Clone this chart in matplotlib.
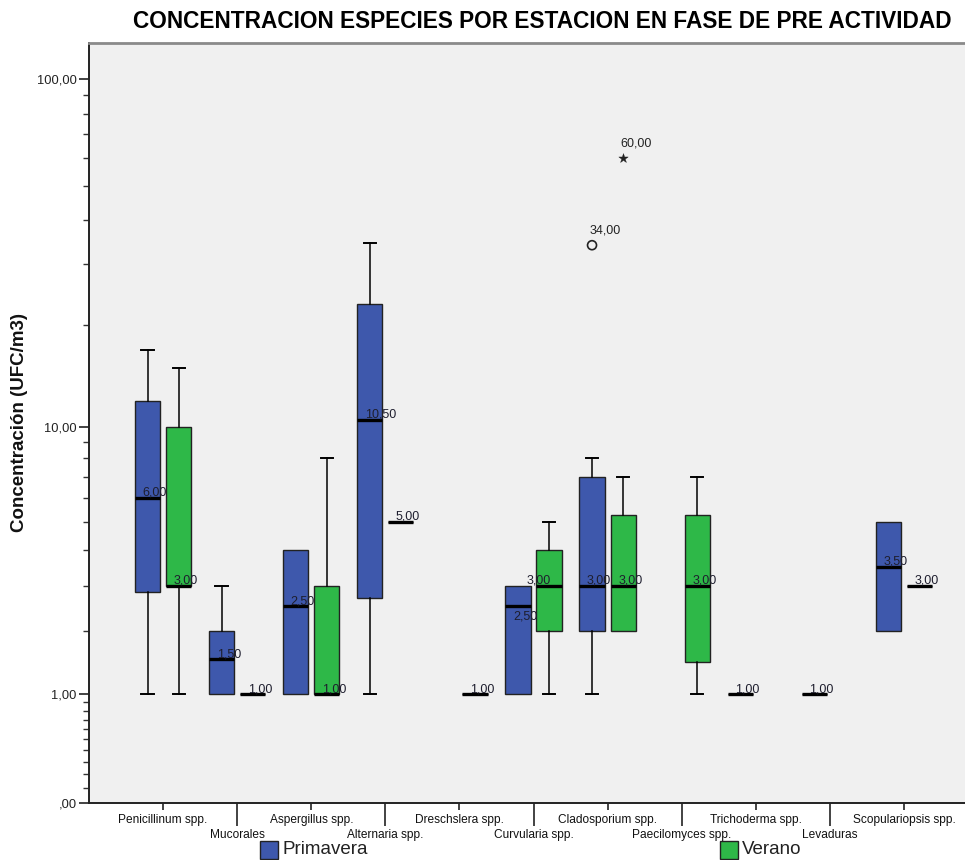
import numpy as np
import matplotlib
matplotlib.use("Agg")
import matplotlib.pyplot as plt
from matplotlib.patches import Rectangle

plt.rcParams['font.family'] = ['Liberation Sans', 'DejaVu Sans']

title = "CONCENTRACION ESPECIES POR ESTACION EN FASE DE PRE ACTIVIDAD"
y_label = "Concentración (UFC/m3)"
categories = ["Penicillinum spp.", "Mucorales", "Aspergillus spp.", "Alternaria spp.",
              "Dreschslera spp.", "Curvularia spp.", "Cladosporium spp.",
              "Paecilomyces spp.", "Trichoderma spp.", "Levaduras",
              "Scopulariopsis spp."]
seasons = ["Primavera", "Verano"]
nan = np.nan

# Five-number summaries (UFC/m3) per category, NaN where the season has no data
prim_low = [1, 1, 1, 1, nan, 1, 1, nan, 1, 1, 2]
prim_q1 = [2.85, 1, 1, 2.7, nan, 1, 2, nan, 1, 1, 2]
prim_med = [6, 1.5, 2.5, 10.5, nan, 2.5, 3, nan, 1, 1, 3.5]
prim_q3 = [12, 2, 4, 23, nan, 3, 7, nan, 1, 1, 5]
prim_high = [17, 3, 4, 34.5, nan, 3, 8, nan, 1, 1, 5]

ver_low = [1, 1, 1, 5, 1, 1, 2, 1, nan, nan, 3]
ver_q1 = [3, 1, 1, 5, 1, 2, 2, 1.45, nan, nan, 3]
ver_med = [3, 1, 1, 5, 1, 3, 3, 3, nan, nan, 3]
ver_q3 = [10, 1, 3, 5, 1, 4, 5.25, 5.25, nan, nan, 3]
ver_high = [15, 1, 8, 5, 1, 5, 7, 7, nan, nan, 3]

# Outliers (circle) and extreme values (star)
outlier_season = ["Primavera"]
outlier_category = ["Cladosporium spp."]
outlier_value = [34]
extreme_season = ["Verano"]
extreme_category = ["Cladosporium spp."]
extreme_value = [60]

y_major = [0, 1, 10, 100]
y_minor = [0.1, 0.2, 0.3, 0.4, 0.5, 0.6, 0.7, 0.8, 0.9,
           2, 3, 4, 5, 6, 7, 8, 9, 20, 30, 40, 50, 60, 70, 80, 90]

colors = {"Primavera": "#3E58AC", "Verano": "#2EB848"}
series = {
    "Primavera": (prim_low, prim_q1, prim_med, prim_q3, prim_high),
    "Verano": (ver_low, ver_q1, ver_med, ver_q3, ver_high),
}
offsets = {"Primavera": -0.21, "Verano": 0.21}
box_w = 0.34


def fmt(v):
    return f"{v:.2f}".replace(".", ",")


W, H = 965, 860
fig = plt.figure(figsize=(W / 100, H / 100), dpi=100)
fig.patch.set_facecolor("white")
ax = fig.add_axes([89 / W, (H - 803) / H, (978 - 89) / W, (803 - 43) / H])
ax.set_facecolor("#F0F0F0")

ax.set_yscale("function", functions=(lambda v: np.log10(np.clip(v, -0.999, None) + 1),
                                     lambda v: 10 ** v - 1))
ax.set_ylim(0, 126)
ax.set_xlim(-1, 11)

# label placement tweaks (points) for crowded medians
label_offset = {("Primavera", "Curvularia spp."): (-3.5, -3, "top"),
                ("Verano", "Curvularia spp."): (-16, 1.5, "baseline")}

for s in seasons:
    low, q1, med, q3, high = series[s]
    stats, pos = [], []
    for i, cat in enumerate(categories):
        if np.isnan(med[i]):
            continue
        stats.append(dict(whislo=low[i], q1=q1[i], med=med[i], q3=q3[i],
                          whishi=high[i], fliers=[]))
        pos.append(i + offsets[s])
    art = ax.bxp(stats, positions=pos, widths=box_w, capwidths=0.165,
                 showfliers=False, patch_artist=True,
                 boxprops=dict(facecolor=colors[s], edgecolor="#222222", linewidth=1.0),
                 medianprops=dict(color="black", linewidth=2.4, solid_capstyle="butt"),
                 whiskerprops=dict(color="black", linewidth=1.1),
                 capprops=dict(color="black", linewidth=1.4))
    # whiskers of zero length carry no cap
    for k, st in enumerate(stats):
        if st["whislo"] == st["q1"]:
            art["whiskers"][2 * k].set_visible(False)
            art["caps"][2 * k].set_visible(False)
        if st["whishi"] == st["q3"]:
            art["whiskers"][2 * k + 1].set_visible(False)
            art["caps"][2 * k + 1].set_visible(False)
    for i, cat in enumerate(categories):
        if np.isnan(med[i]):
            continue
        dx, dy, va = label_offset.get((s, cat), (-3.6, 1.5, "baseline"))
        ax.annotate(fmt(med[i]), (i + offsets[s], med[i]), xytext=(dx, dy),
                    textcoords="offset points", ha="left", va=va,
                    fontsize=9, color="#1e1e2e", zorder=5)

for s, cat, v in zip(outlier_season, outlier_category, outlier_value):
    x = categories.index(cat) + offsets[s]
    ax.scatter([x], [v], s=42, marker="o", facecolors="none",
               edgecolors="#222222", linewidths=1.2, zorder=4)
    ax.annotate(fmt(v), (x, v), xytext=(-2, 6), textcoords="offset points",
                ha="left", va="bottom", fontsize=9, color="#222222")
for s, cat, v in zip(extreme_season, extreme_category, extreme_value):
    x = categories.index(cat) + offsets[s]
    ax.scatter([x], [v], s=50, marker="*", color="#222222", linewidths=0.3, zorder=4)
    ax.annotate(fmt(v), (x, v), xytext=(-2, 6), textcoords="offset points",
                ha="left", va="bottom", fontsize=9, color="#222222")

# y axis
ax.set_yticks(y_major)
ax.set_yticklabels([fmt(v) if v else ",00" for v in y_major])
ax.set_yticks(y_minor, minor=True)
ax.tick_params(axis="y", which="major", length=7, width=1.2, labelsize=9.3,
               colors="#222222", pad=2)
ax.tick_params(axis="y", which="minor", length=4, width=1.0, colors="#333333")
ax.set_ylabel(y_label, fontsize=13.5, fontweight="bold", color="#111111")
ax.yaxis.set_label_coords((28 - 89) / 889, (803 - 423) / 760)

# x axis: staggered category labels (upper row on major ticks, lower row on
# longer minor ticks)
upper = list(range(0, len(categories), 2))
lower = list(range(1, len(categories), 2))
ax.set_xticks(upper, [categories[i] for i in upper])
ax.set_xticks(lower, [categories[i] for i in lower], minor=True)
ax.tick_params(axis="x", which="major", length=5, width=1.2, colors="#222222",
               pad=3.2, labelsize=8.6, labelcolor="#111111")
ax.tick_params(axis="x", which="minor", length=16.5, width=1.2, colors="#222222",
               pad=2.0, labelsize=8.6, labelcolor="#111111")

for side in ("left", "bottom"):
    ax.spines[side].set_color("#222222")
    ax.spines[side].set_linewidth(1.4)
ax.spines["top"].set_color("#8a8a8a")
ax.spines["top"].set_linewidth(2)
ax.spines["right"].set_color("#8a8a8a")
ax.spines["right"].set_linewidth(2)

fig.text(542 / W, 1 - 22 / H, title, ha="center", va="center",
         fontsize=16.3, fontweight="bold", color="black")

# legend
legend_x = {"Primavera": 260, "Verano": 720}
for s in seasons:
    x0 = legend_x[s]
    fig.patches.append(Rectangle((x0 / W, (H - 859) / H), 18 / W, 18 / H,
                                 transform=fig.transFigure, facecolor=colors[s],
                                 edgecolor="#222222", linewidth=1.0))
    fig.text((x0 + 22) / W, (H - 850) / H, s, ha="left", va="center",
             fontsize=13.5, color="#222222")

fig.savefig("out.png", dpi=100)
